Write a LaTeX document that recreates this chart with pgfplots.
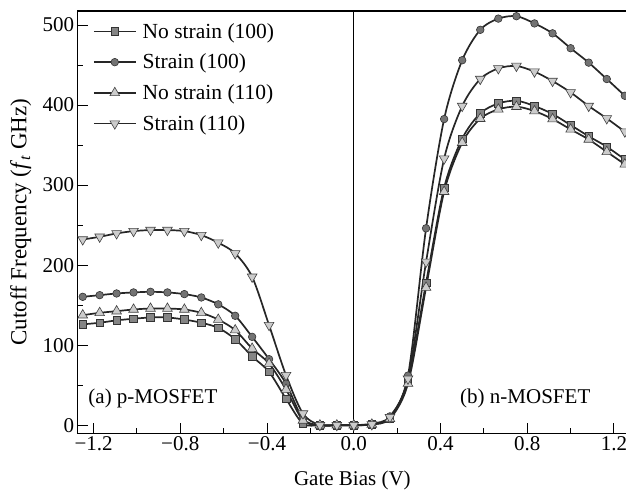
\documentclass[border=0pt]{standalone}
\usepackage{fontspec}
\setmainfont{Liberation Serif}
\usepackage{pgfplots}
\usepackage{pgfplotstable}
\pgfplotsset{compat=1.18}
\usetikzlibrary{calc}

\pgfplotstableread{
x        n100   s100   n110   s110
-1.25     126   160.4  137.5  232
-1.171875 128   162.5  140.4  235.4
-1.09375  131   164.6  142.5  239.6
-1.015625 133   165.9  144.6  242.5
-0.9375   134.6 166.7  145.8  243.8
-0.859375 134.6 165.9  145.8  243.8
-0.78125  132   163.8  144.6  242.5
-0.703125 128   159.6  140.4  237.5
-0.625    121.6 151    132    228
-0.546875 107.5 136.7  118.8  214.6
-0.46875  86    110.4  95.8   185.4
-0.390625 66.6  82.5   77     125
-0.3125   33    52     44.6   62.5
-0.234375 2     8      6      14.6
-0.15625  0     0      0      0
-0.078125 0     0      0      0
0         0     0      0      0
0.083333  1     2      1      1
0.166667  9     11     8      10
0.25      56    62     52     58
0.333333  178   246    172    204
0.416667  296.7 382.5  291.7  333
0.5       358   456    353    398.8
0.583333  389.6 494    383    432.5
0.666667  402   508    394.6  445.8
0.75      405.4 511    398    448.8
0.833333  398.8 502    392.5  441.7
0.916667  388.8 489.6  382.5  430
1.0       375   471    369.6  415.8
1.083333  361   453    357    398.8
1.166667  347.9 432.5  341.6  383.3
1.25      332   411.6  326    366.7
}\data

\begin{document}
\begin{tikzpicture}
\begin{axis}[
  name=ax,
  scale only axis,
  width=549pt, height=422pt,
  xmin=-1.273, xmax=1.260,
  ymin=-10, ymax=517.5,
  font=\fontsize{21}{25}\selectfont,
  axis line style={line width=1.1pt},
  tick align=inside,
  xtick pos=bottom, ytick pos=left,
  major tick length=10pt, minor tick length=5pt,
  every tick/.style={black, line width=1pt},
  xtick={-1.2,-0.8,-0.4,0,0.4,0.8,1.2},
  xticklabels={−1.2,−0.8,−0.4,0.0,0.4,0.8,1.2},
  minor xtick={-1.0,-0.6,-0.2,0.2,0.6,1.0},
  ytick={0,100,200,300,400,500},
  yticklabels={0,100,200,300,400,500},
  minor ytick={50,150,250,350,450},
  xlabel={Gate Bias (V)},
  ylabel={Cutoff Frequency (\textit{f}\textsubscript{\textit{t}} GHz)},
  xlabel style={at={(axis description cs:0.5,0)}, anchor=base, yshift=-52pt, inner sep=0pt},
  ylabel style={at={(axis description cs:-0.1036,0.5)}, anchor=center, rotate=0, font=\fontsize{23}{27}\selectfont},
  legend style={at={(axis description cs:0,1)}, anchor=north west,
     xshift=15pt, yshift=-10pt, draw=none, fill=none,
     inner xsep=0pt, inner ysep=0pt, row sep=10.3pt,
     font=\fontsize{21.5}{25}\selectfont,
     /tikz/every odd column/.append style={column sep=4pt}},
  legend cell align=left,
  legend image code/.code={\draw[mark repeat=2,mark phase=2] plot coordinates {(0pt,0pt) (21pt,0pt) (42pt,0pt)};},
  every axis plot/.append style={line width=1.7pt, color=black!85},
]
\addplot[forget plot, line width=1.4pt, black, mark=none] coordinates {(0,-10) (0,517.5)};
\addplot[smooth, mark=square*, mark size=3.8pt, mark options={fill=black!48, draw=black!80, line width=0.6pt}] table[x=x,y=n100] {\data};
\addlegendentry{No strain (100)}
\addplot[smooth, mark=*, mark size=3.8pt, mark options={fill=black!55, draw=black!80, line width=0.6pt}] table[x=x,y=s100] {\data};
\addlegendentry{Strain (100)}
\addplot[smooth, mark=triangle*, mark size=5.6pt, mark options={fill=black!20, draw=black!75, line width=0.6pt}] table[x=x,y=n110] {\data};
\addlegendentry{No strain (110)}
\addplot[smooth, mark=triangle*, mark size=5.6pt, mark options={rotate=180, fill=black!20, draw=black!75, line width=0.6pt}] table[x=x,y=s110] {\data};
\addlegendentry{Strain (110)}
\node[anchor=base west, inner sep=0pt] at (axis cs:-1.2246,27.5) {(a) p-MOSFET};
\node[anchor=base west, inner sep=0pt] at (axis cs:0.49,27.5) {(b) n-MOSFET};
\end{axis}
\pgfresetboundingbox
\useasboundingbox ($(ax.south west)+(-77.7pt,-58pt)$) rectangle ($(ax.north east)+(-1pt,11pt)$);
\end{tikzpicture}
\end{document}
